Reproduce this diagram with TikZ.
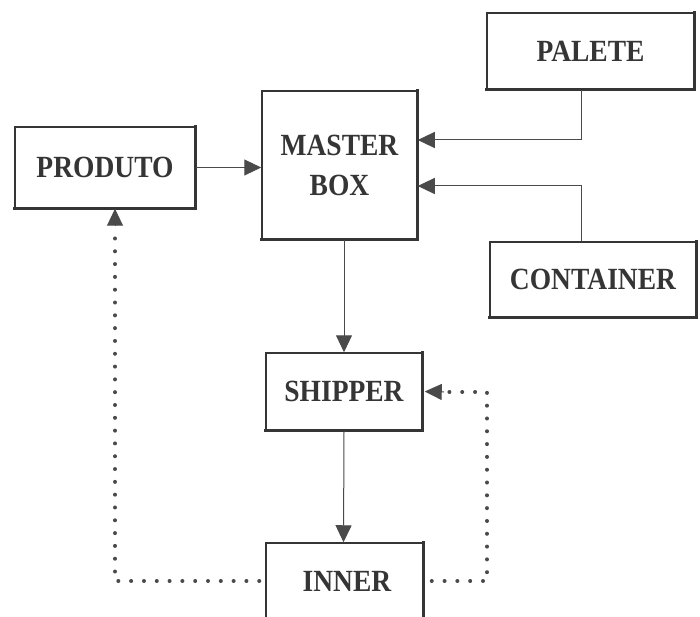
\documentclass[tikz,border=0pt]{standalone}
\usepackage{fontspec}
\setmainfont{Liberation Serif}
\usetikzlibrary{arrows.meta}
\definecolor{ink}{HTML}{353535}
\definecolor{linec}{HTML}{4A4A4A}
\newcommand{\lbl}[1]{\scalebox{1}[1.12]{#1}}
\tikzset{
  boxn/.style={draw=ink, line width=1.5pt, minimum width=#1, inner sep=0pt, text=ink,
     font=\fontsize{27.5}{39}\selectfont\bfseries, align=center},
  shad/.style={draw=ink, line width=3.4pt, line cap=rect},
  arr/.style={draw=linec, line width=1pt, -{Triangle[length=17pt,width=16pt]}},
  dotl/.style={draw=linec, line width=4pt, line cap=round, dash pattern=on 0.01pt off 12.8pt}
}
\begin{document}
\begin{tikzpicture}[x=1pt,y=-1pt]
\useasboundingbox (0,0) rectangle (700,617);
\clip (0,0) rectangle (700,617);
\fill[white] (0,0) rectangle (700,617);
% nodes
\node[boxn=207pt, minimum height=76pt] (palete) at (590.5,51) {\lbl{PALETE}};
\node[boxn=155pt, minimum height=148pt] (master) at (339.5,165) {\lbl{MASTER}\\[1pt]\lbl{BOX}};
\node[boxn=180pt, minimum height=81pt] (produto) at (105,167.5) {\lbl{PRODUTO}};
\node[boxn=206pt, minimum height=75pt] (container) at (593,279.5) {\lbl{CONTAINER}};
\node[boxn=156pt, minimum height=77pt] (shipper) at (344,391.5) {\lbl{SHIPPER}};
\node[boxn=157pt, minimum height=82pt] (inner) at (344.5,584) {};
\node[text=ink, font=\fontsize{27.5}{39}\selectfont\bfseries] (innert) at (347,581) {\lbl{INNER}};
% shadow edges
\foreach \n in {palete,master,produto,container,shipper,inner}{
  \draw[shad] (\n.north east) -- (\n.south east) -- (\n.south west);
}
% connectors
\draw[arr] (produto.east) -- (produto.east -| master.west);
\draw[arr] ([xshift=-9.5pt]palete.south) |- ([yshift=25pt]master.east);
\draw[arr] ([xshift=-12pt]container.north) |- ([yshift=-21pt]master.east);
\draw[arr] (master.south -| shipper.north) -- (shipper.north);
\draw[arr] (shipper.south) -- ([xshift=-1pt]inner.north);
% dotted feedback
\coordinate (lc) at (115,581);
\coordinate (rc) at (487,581);
\coordinate (lt) at (115,226);
\coordinate (rt) at (444,392);
\draw[dotl] ([xshift=-6pt,yshift=3pt]inner.west) -- (lc) -- (lt);
\draw[arr] (lt) -- (lc |- produto.south);
\draw[dotl] ([xshift=8pt,yshift=3pt]inner.east) -- (rc) |- (rt);
\draw[arr] (rt) -- ([xshift=2pt]shipper.east);
\end{tikzpicture}
\end{document}
